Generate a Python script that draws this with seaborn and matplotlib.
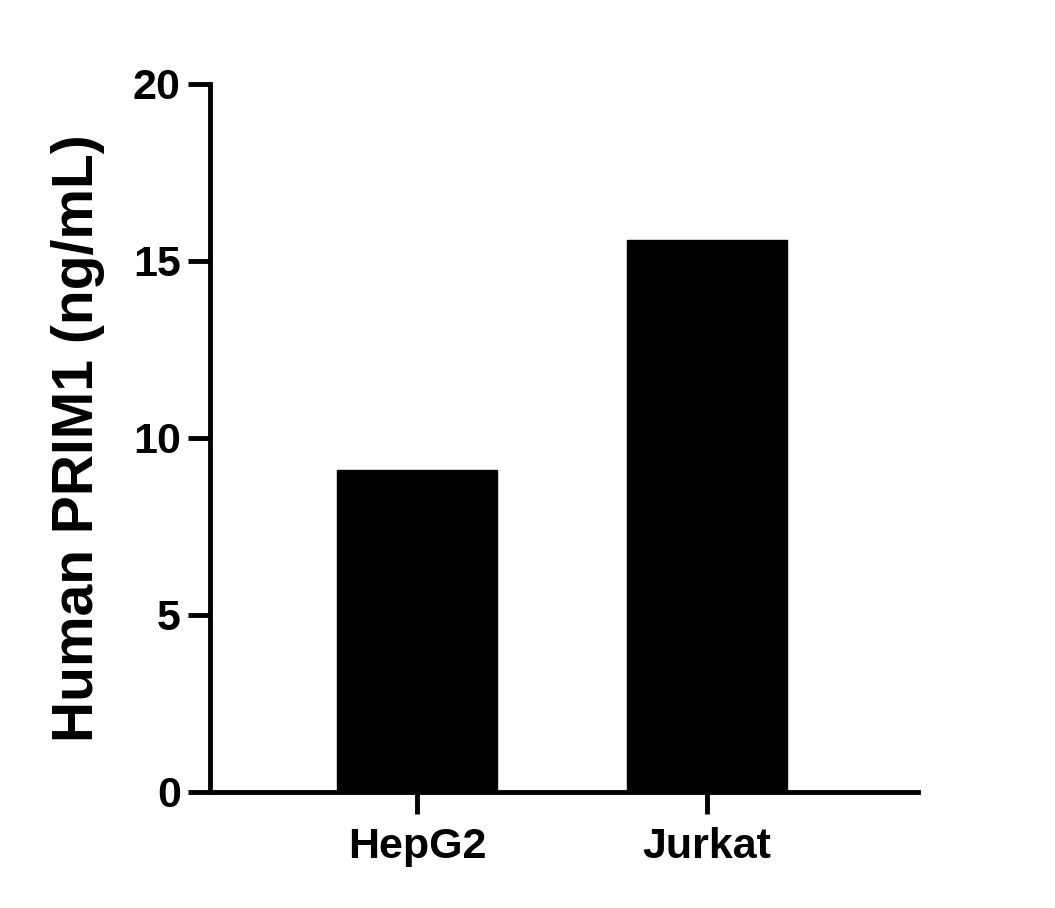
import matplotlib
matplotlib.use("Agg")
import matplotlib.pyplot as plt
import seaborn as sns
import pandas as pd

# values
cell_lines = ["HepG2", "Jurkat"]
prim1_ng_ml = [9.1, 15.6]
y_ticks = [0, 5, 10, 15, 20]

df = pd.DataFrame({"cell_line": cell_lines, "conc": prim1_ng_ml})

sns.set_style("ticks")
plt.rcParams["font.family"] = ["Liberation Sans", "DejaVu Sans"]
plt.rcParams["font.weight"] = "bold"

fig = plt.figure(figsize=(10.55, 9.08), dpi=100)
ax = fig.add_axes([0.199, 0.1278, 0.671, 0.7797])

sns.barplot(data=df, x="cell_line", y="conc", color="black", width=0.555,
            saturation=1, edgecolor="black", ax=ax)

ax.set_xlim(-0.714, 1.727)
ax.set_ylim(0, 20)
ax.set_yticks(y_ticks)
ax.set_xlabel("")
ax.set_ylabel("Human PRIM1 (ng/mL)", fontsize=41, fontweight="bold",
              color="black", labelpad=20)

for side in ["top", "right"]:
    ax.spines[side].set_visible(False)
for side in ["left", "bottom"]:
    ax.spines[side].set_linewidth(3.5)
    ax.spines[side].set_color("black")

ax.tick_params(axis="both", width=3.5, length=16, color="black",
               labelsize=31, labelcolor="black", pad=5)
ax.tick_params(axis="x", pad=9)
for lbl in ax.get_xticklabels() + ax.get_yticklabels():
    lbl.set_fontweight("bold")

fig.savefig("out.png", dpi=100, facecolor="white")
